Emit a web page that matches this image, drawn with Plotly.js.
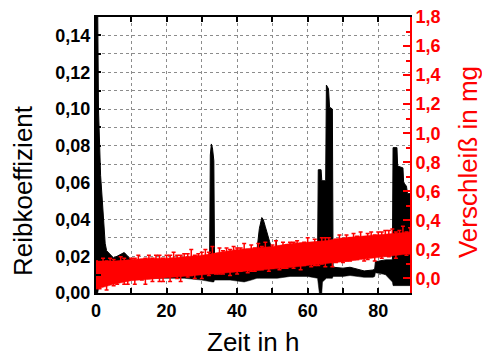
<!DOCTYPE html>
<html>
<head>
<meta charset="utf-8">
<script src="https://cdn.plot.ly/plotly-3.0.1.min.js"></script>
<style>html,body{margin:0;padding:0;background:#fff;}#chart{width:482px;height:358px;}</style>
</head>
<body>
<div id="chart"></div>
<script>
// Friction coefficient (left axis): envelope of the dense signal
const frictionTime = [0.0,0.5,0.7,1.0,1.3,1.8,2.2,2.6,3.0,4.0,5.0,6.0,7.0,8.0,9.0,10,15,20,25,30,32.2,32.4,32.7,33.0,33.4,33.6,38,42,44,45.3,45.6,46.3,47.0,47.4,48.0,48.5,49.2,49.8,50.2,50.9,51.1,51.4,55,60,62.8,63.0,63.3,63.8,64.0,64.2,65.1,65.3,65.9,66.2,67.0,67.2,70,72,74,76,78.5,79.0,79.2,82,84.0,84.2,85.3,85.5,87.0,87.2,88.0,88.3,89.0];
const frictionHigh = [0.150,0.150,0.100,0.082,0.064,0.050,0.036,0.027,0.023,0.021,0.019,0.020,0.021,0.022,0.020,0.018,0.017,0.017,0.017,0.017,0.017,0.075,0.081,0.079,0.072,0.018,0.017,0.017,0.017,0.018,0.024,0.035,0.041,0.040,0.036,0.032,0.028,0.024,0.018,0.019,0.029,0.019,0.018,0.018,0.018,0.067,0.067,0.067,0.061,0.061,0.061,0.113,0.111,0.101,0.100,0.014,0.0135,0.014,0.013,0.012,0.0125,0.013,0.017,0.018,0.018,0.079,0.079,0.069,0.068,0.060,0.058,0.054,0.054];
const frictionLow  = [0.000,0.000,0.002,0.003,0.004,0.004,0.005,0.006,0.007,0.008,0.008,0.008,0.008,0.008,0.008,0.008,0.008,0.008,0.008,0.007,0.006,0.006,0.006,0.006,0.006,0.007,0.007,0.006,0.007,0.008,0.008,0.008,0.008,0.008,0.008,0.008,0.008,0.008,0.008,0.008,0.008,0.008,0.009,0.009,0.008,0.004,0.000,0.000,0.000,0.006,0.008,0.008,0.008,0.008,0.008,0.009,0.009,0.0095,0.009,0.0085,0.0085,0.009,0.011,0.010,0.006,0.004,0.004,0.004,0.004,0.004,0.004,0.004,0.004];

// Wear (right axis): solid core band of the dense measurements
const wearBandTime = [0,5,10,15,20,25,30,35,40,45,50,55,60,65,70,75,80,85,89];
const wearBandLow  = [-0.075,-0.04,-0.015,-0.005,0.00,0.01,0.025,0.035,0.04,0.05,0.065,0.075,0.09,0.10,0.115,0.13,0.145,0.16,0.17];
const wearBandHigh = [0.12,0.12,0.13,0.14,0.14,0.15,0.16,0.18,0.20,0.21,0.22,0.24,0.25,0.26,0.28,0.29,0.30,0.31,0.32];

// Wear measurements with error bars (hourly)
const wearTime = [0,1,2,3,4,5,6,7,8,9,10,11,12,13,14,15,16,17,18,19,20,21,22,23,24,25,26,27,28,29,30,31,32,33,34,35,36,37,38,39,40,41,42,43,44,45,46,47,48,49,50,51,52,53,54,55,56,57,58,59,60,61,62,63,64,65,66,67,68,69,70,71,72,73,74,75,76,77,78,79,80,81,82,83,84,85,86,87,88,89];
const wearMean = [0.03,0.01,0.05,0.02,0.06,0.04,0.03,0.07,0.05,0.04,0.07,0.05,0.08,0.06,0.05,0.08,0.06,0.09,0.07,0.06,0.09,0.07,0.10,0.08,0.07,0.10,0.09,0.11,0.08,0.10,0.09,0.12,0.10,0.13,0.10,0.12,0.11,0.13,0.11,0.14,0.12,0.13,0.15,0.12,0.14,0.13,0.15,0.14,0.16,0.13,0.15,0.17,0.14,0.16,0.15,0.17,0.16,0.18,0.15,0.17,0.19,0.16,0.18,0.17,0.19,0.18,0.20,0.17,0.19,0.21,0.19,0.21,0.20,0.22,0.21,0.23,0.20,0.22,0.24,0.21,0.24,0.23,0.25,0.24,0.26,0.23,0.25,0.27,0.24,0.26];
const wearErr  = [0.09,0.08,0.09,0.10,0.08,0.09,0.07,0.08,0.09,0.08,0.07,0.09,0.08,0.07,0.09,0.08,0.08,0.07,0.09,0.08,0.07,0.09,0.08,0.08,0.09,0.07,0.08,0.09,0.08,0.07,0.09,0.08,0.08,0.09,0.07,0.09,0.08,0.08,0.09,0.08,0.09,0.08,0.09,0.08,0.09,0.08,0.09,0.08,0.09,0.08,0.08,0.09,0.08,0.09,0.08,0.08,0.09,0.08,0.09,0.08,0.09,0.08,0.09,0.08,0.09,0.10,0.08,0.09,0.08,0.09,0.08,0.09,0.08,0.09,0.08,0.09,0.08,0.09,0.08,0.09,0.08,0.09,0.08,0.09,0.08,0.09,0.08,0.09,0.08,0.09];

const axisTitles = {x: 'Zeit in h', y: 'Reibkoeffizient', y2: 'Verschleiß in mg'};

const tickFont = (c) => ({family: 'Liberation Sans, Arial, sans-serif', size: 18, color: c, weight: 'bold'});
const titleFont = (c) => ({family: 'Liberation Sans, Arial, sans-serif', size: 26, color: c});

const traces = [
  {x: frictionTime, y: frictionLow, type: 'scatter', mode: 'lines', line: {color: '#000', width: 0.5}, hoverinfo: 'skip', showlegend: false},
  {x: frictionTime, y: frictionHigh, type: 'scatter', mode: 'lines', fill: 'tonexty', fillcolor: '#000', line: {color: '#000', width: 1}, showlegend: false},
  {x: wearBandTime, y: wearBandLow, yaxis: 'y2', type: 'scatter', mode: 'lines', line: {color: '#ff0000', width: 0.5}, hoverinfo: 'skip', showlegend: false},
  {x: wearBandTime, y: wearBandHigh, yaxis: 'y2', type: 'scatter', mode: 'lines', fill: 'tonexty', fillcolor: '#ff0000', line: {color: '#ff0000', width: 0.5}, hoverinfo: 'skip', showlegend: false},
  {x: wearTime, y: wearMean, yaxis: 'y2', type: 'scatter', mode: 'markers',
   marker: {color: '#ff0000', size: 4, symbol: 'square'},
   error_y: {type: 'data', array: wearErr, visible: true, color: '#ff0000', thickness: 1.5, width: 2},
   showlegend: false}
];

const gridStyle = {showgrid: true, gridcolor: '#8c8c8c', griddash: 'dot', gridwidth: 1};

const layout = {
  width: 482, height: 358,
  margin: {l: 96, r: 72, t: 17, b: 65, pad: 0},
  paper_bgcolor: '#fff', plot_bgcolor: '#fff',
  separators: ',.',
  showlegend: false,
  xaxis: Object.assign({
    range: [0, 89], tickmode: 'linear', tick0: 0, dtick: 20,
    ticks: 'inside', ticklen: 5, tickwidth: 2, tickcolor: '#000',
    showline: true, linecolor: '#000', linewidth: 2, mirror: 'allticks',
    zeroline: false, tickfont: tickFont('#000'),
    minor: Object.assign({dtick: 10, ticks: 'inside', ticklen: 5, tickwidth: 2, tickcolor: '#000'}, gridStyle)
  }, gridStyle),
  yaxis: Object.assign({
    range: [0, 0.15], tickmode: 'linear', tick0: 0, dtick: 0.02, tickformat: '.2f',
    ticks: 'inside', ticklen: 5, tickwidth: 2, tickcolor: '#000',
    showline: true, linecolor: '#000', linewidth: 2, mirror: false,
    zeroline: false, tickfont: tickFont('#000'),
    minor: Object.assign({dtick: 0.01, ticks: 'inside', ticklen: 5, tickwidth: 2, tickcolor: '#000'}, gridStyle)
  }, gridStyle),
  yaxis2: {
    overlaying: 'y', side: 'right', range: [-0.1, 1.8],
    tickmode: 'linear', tick0: 0, dtick: 0.2, tickformat: '.1f',
    ticks: 'inside', ticklen: 7, tickwidth: 2, tickcolor: '#ff0000',
    showline: true, linecolor: '#ff0000', linewidth: 2,
    showgrid: false, zeroline: false, tickfont: tickFont('#ff0000'),
    minor: {dtick: 0.1, ticks: 'inside', ticklen: 4, tickwidth: 2, tickcolor: '#ff0000', showgrid: false}
  },
  annotations: [
    {text: axisTitles.x, xref: 'paper', yref: 'paper', x: 0.5, y: -0.1775, xanchor: 'center', yanchor: 'middle', showarrow: false, font: titleFont('#000')},
    {text: axisTitles.y, xref: 'paper', yref: 'paper', x: -0.2325, y: 0.373, xanchor: 'center', yanchor: 'middle', textangle: -90, showarrow: false, font: titleFont('#000')},
    {text: axisTitles.y2, xref: 'paper', yref: 'paper', x: 1.185, y: 0.4746, xanchor: 'center', yanchor: 'middle', textangle: -90, showarrow: false, font: titleFont('#ff0000')}
  ]
};

Plotly.newPlot('chart', traces, layout, {staticPlot: true, displayModeBar: false});
</script>
</body>
</html>
